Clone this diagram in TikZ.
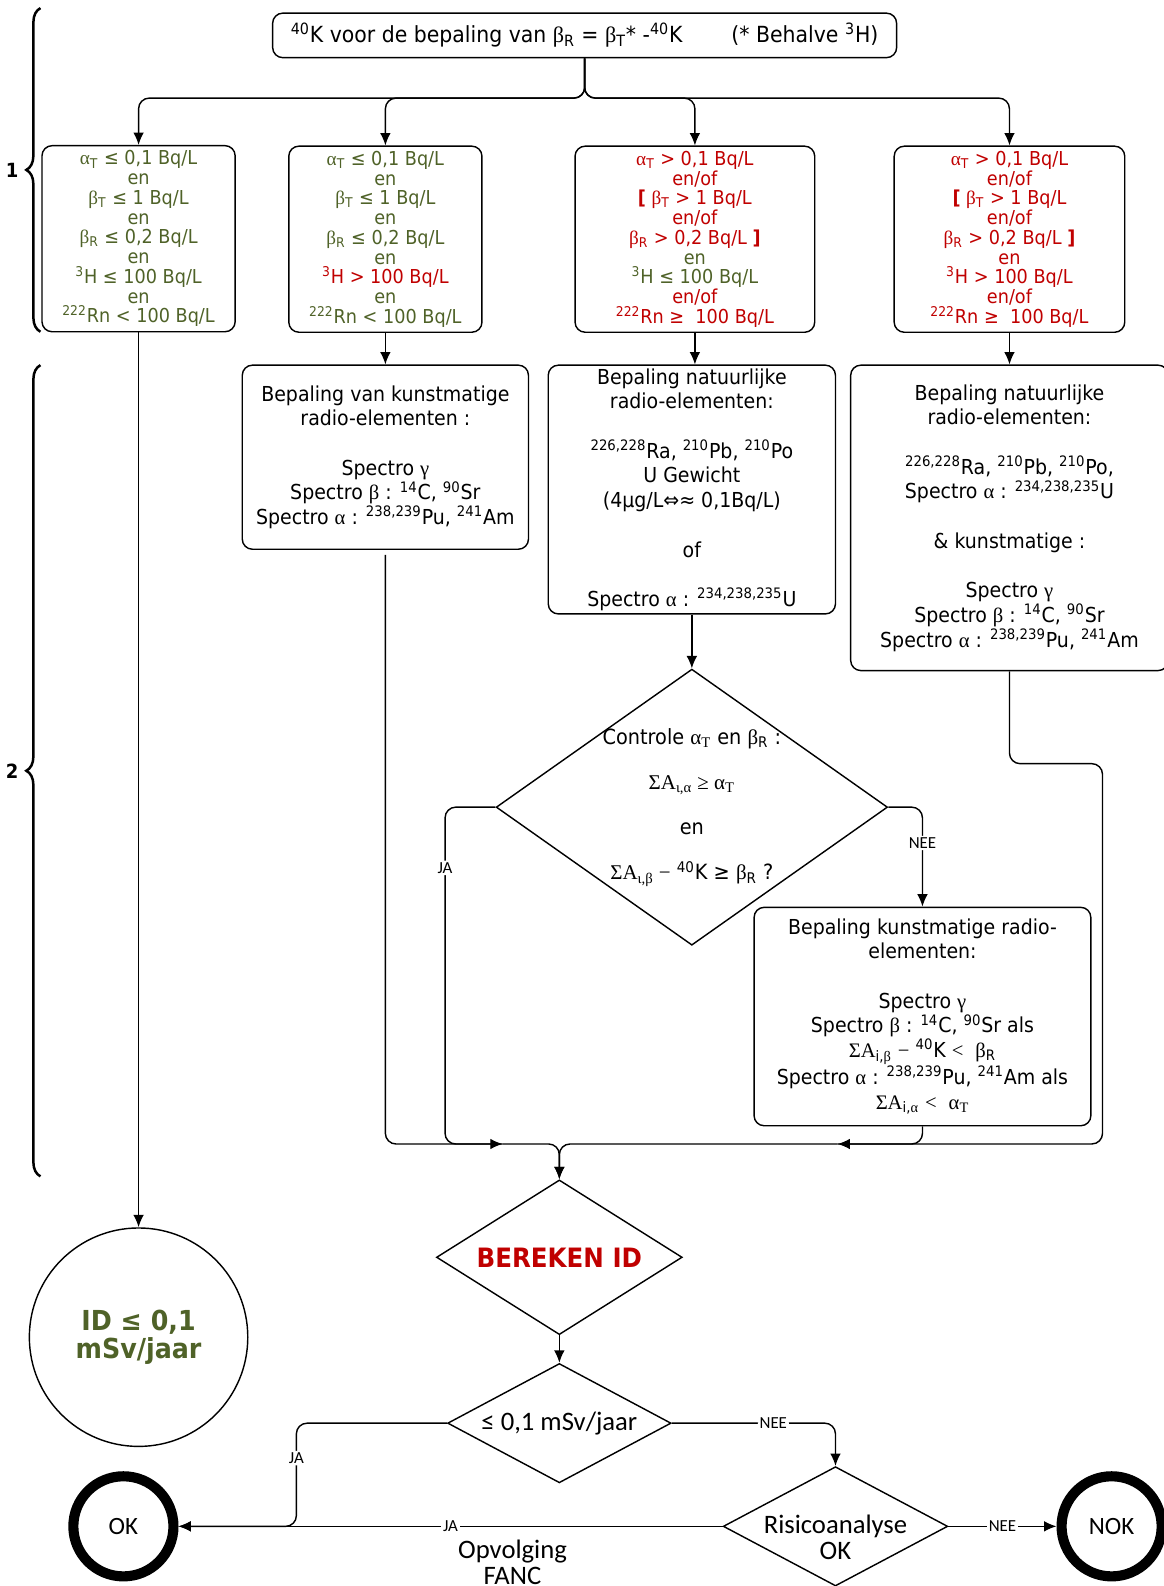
\documentclass[tikz,border=0pt]{standalone}
\usepackage{fontspec}
\setmainfont{DejaVu Sans}[FakeStretch=0.92]
\newfontfamily\grk{Liberation Serif}
\newfontfamily\calib{Carlito}
\usepackage{tikz}
\usetikzlibrary{shapes.geometric,decorations.pathreplacing}
\usetikzlibrary{arrows.meta,calc,positioning}
\definecolor{okgreen}{RGB}{79,98,40}
\definecolor{nokred}{RGB}{192,0,0}
\newcommand{\gra}{{\grk α}}
\newcommand{\grb}{{\grk β}}
\newcommand{\grg}{{\grk γ}}
\newcommand{\grS}{{\grk Σ}}
\newcommand{\fail}[1]{\textcolor{nokred}{#1}}
\newcommand{\pass}[1]{\textcolor{okgreen}{#1}}

\begin{document}
\begin{tikzpicture}[x=0.02cm, y=-0.02cm, line width=0.8pt,
    box/.style={draw, rounded corners=0.2cm, align=center, inner sep=0pt},
    cond/.style={box, minimum height=3.68cm, font=\fontsize{10.8}{11.1}\selectfont, text=okgreen},
    proc/.style={box, font=\fontsize{11.6}{13.9}\selectfont},
    test/.style={draw, diamond, inner sep=-1.5cm, align=center},
    term/.style={draw, circle, line width=0.2cm, minimum size=1.98cm, font=\calib\fontsize{14}{16}\selectfont},
    arr/.style={-{Latex[length=7pt,width=6pt]}},
    lbl/.style={fill=white, inner sep=1pt, font=\calib\fontsize{9.5}{10}\selectfont},
    grp/.style={decorate, decoration={brace, amplitude=0.28cm}, line width=1.4pt}]
        \def\rnd{6pt}
        \def\gap{13.9pt}
        \useasboundingbox (0,0) rectangle (1150,1568);
        %Top box
        \node[box, minimum width=12.34cm, minimum height=0.88cm, font=\fontsize{12.5}{14}\selectfont] (top) at (578,35)
          {\textsuperscript{40}K voor de bepaling van \grb\textsubscript{R} = \grb\textsubscript{T}* -\textsuperscript{40}K\hspace{2.2em}(* Behalve \textsuperscript{3}H)};
        %Conditions
        \node[cond, minimum width=3.82cm] (c1) at (137,236)
          {\gra\textsubscript{T} ≤ 0,1 Bq/L\\ en\\ \grb\textsubscript{T} ≤ 1 Bq/L\\ en\\ \grb\textsubscript{R} ≤ 0,2 Bq/L\\ en\\
           \textsuperscript{3}H ≤ 100 Bq/L\\ en\\ \textsuperscript{222}Rn < 100 Bq/L};
        \node[cond, minimum width=3.82cm] (c2) at (381,236.5)
          {\gra\textsubscript{T} ≤ 0,1 Bq/L\\ en\\ \grb\textsubscript{T} ≤ 1 Bq/L\\ en\\ \grb\textsubscript{R} ≤ 0,2 Bq/L\\ en\\
           \fail{\textsuperscript{3}H > 100 Bq/L}\\ en\\ \textsuperscript{222}Rn < 100 Bq/L};
        \node[cond, minimum width=4.74cm, text=nokred] (c3) at (687,236.5)
          {\gra\textsubscript{T} > 0,1 Bq/L\\ en/of\\ \textbf{[} \grb\textsubscript{T} > 1 Bq/L\\ en/of\\ \grb\textsubscript{R} > 0,2 Bq/L \textbf{]}\\
           \pass{en}\\ \pass{\textsuperscript{3}H ≤ 100 Bq/L}\\ en/of\\ \textsuperscript{222}Rn ≥~ 100 Bq/L};
        \node[cond, minimum width=4.56cm, text=nokred] (c4) at (998,236.5)
          {\gra\textsubscript{T} > 0,1 Bq/L\\ en/of\\ \textbf{[} \grb\textsubscript{T} > 1 Bq/L\\ en/of\\ \grb\textsubscript{R} > 0,2 Bq/L \textbf{]}\\
           en\\ \textsuperscript{3}H > 100 Bq/L\\ en/of\\ \textsuperscript{222}Rn ≥~ 100 Bq/L};
        %Determinations
        \node[proc, minimum width=5.66cm, minimum height=3.64cm] (k1) at (381,452)
          {Bepaling van kunstmatige\\ radio-elementen :\\[\gap] Spectro \grg\\ Spectro \grb\ : \textsuperscript{14}C, \textsuperscript{90}Sr\\
           Spectro \gra\ : \textsuperscript{238,239}Pu, \textsuperscript{241}Am};
        \node[proc, minimum width=5.68cm, minimum height=4.92cm] (k2) at (684,484)
          {Bepaling natuurlijke\\ radio-elementen:\\[\gap] \textsuperscript{226,228}Ra, \textsuperscript{210}Pb, \textsuperscript{210}Po\\ U Gewicht\\
           (4µg/L⇔≈ 0,1Bq/L)\\[\gap] of\\[\gap] Spectro \gra\ : \textsuperscript{234,238,235}U};
        \node[proc, minimum width=6.28cm, minimum height=6.04cm] (k3) at (998,512)
          {Bepaling natuurlijke\\ radio-elementen:\\[\gap] \textsuperscript{226,228}Ra, \textsuperscript{210}Pb, \textsuperscript{210}Po,\\
           Spectro \gra\ : \textsuperscript{234,238,235}U\\[\gap] \& kunstmatige :\\[\gap] Spectro \grg\\
           Spectro \grb\ : \textsuperscript{14}C, \textsuperscript{90}Sr\\ Spectro \gra\ : \textsuperscript{238,239}Pu, \textsuperscript{241}Am};
        \node[test, minimum width=7.74cm, minimum height=5.46cm, font=\fontsize{11.8}{25.5}\selectfont] (ctrl) at (684,798)
          {Controle \gra{\grk\textsubscript{T}} en \grb\textsubscript{R} :\\ {\grk ΣA\textsubscript{ι,α} ≥ α\textsubscript{T}}\\ en\\
           {\grk ΣA\textsubscript{ι,β} −} \textsuperscript{40}K ≥ \grb\textsubscript{R} ?};
        \node[proc, minimum width=6.66cm, minimum height=4.32cm] (k4) at (912,1005)
          {Bepaling kunstmatige radio-\\ elementen:\\[\gap] Spectro \grg\\ Spectro \grb\ : \textsuperscript{14}C, \textsuperscript{90}Sr als\\
           {\grk ΣA}\textsubscript{i,\grb} {\grk −} \textsuperscript{40}K {\grk <}~ \grb\textsubscript{R}\\
           Spectro \gra\ : \textsuperscript{238,239}Pu, \textsuperscript{241}Am als\\ {\grk ΣA}\textsubscript{i,\gra} {\grk <}~ {\grk α\textsubscript{T}}};
        %Dose
        \node[test, minimum width=4.86cm, minimum height=3.06cm, font=\bfseries\fontsize{15}{18}\selectfont, text=nokred] (calc) at (553,1243) {BEREKEN ID};
        \node[test, minimum width=4.42cm, minimum height=2.36cm, font=\calib\fontsize{15}{17}\selectfont] (dose) at (553,1407) {≤ 0,1 mSv/jaar};
        \node[test, minimum width=4.44cm, minimum height=2.36cm,
              label={[font=\calib\fontsize{15}{14.7}\selectfont, align=center, yshift=-0.22cm]center:{Risicoanalyse\\ OK}}] (risk) at (826,1509) {};
        \node[draw, circle, minimum size=4.32cm, align=center, text=okgreen, font=\bfseries\fontsize{15.5}{15.3}\selectfont] (idok) at (137,1322) {ID ≤ 0,1\\ mSv/jaar};
        \node[term] (ok) at (122,1509) {OK};
        \node[term] (nok) at (1099,1509) {NOK};
        %Groups
        \draw[grp] (40,328) -- (40,8);
        \draw[grp] (40,1163) -- (40,361);
        \node[font=\bfseries\fontsize{11}{13}\selectfont] (g1) at (12,168) {1};
        \node[font=\bfseries\fontsize{11}{13}\selectfont] (g2) at (12,762) {2};
        %Draw lines
        \coordinate (split) at (578,97);
        \coordinate (jl) at (440,1131);
        \coordinate (ml) at (497,1131);
        \coordinate (mr) at (828,1131);
        \coordinate (rk) at (1090,755);
        \coordinate (jb) at (293,1509);
        \foreach \c in {c1,c2,c3,c4}
          \draw[arr, rounded corners=\rnd] (top.south) -- (split) -| (\c.north);
        \draw[arr] (c1.south) -- (idok.north);
        \draw[arr] (c2.south) -- (k1.north);
        \draw[arr] (c3.south) -- (c3.south |- k2.north);
        \draw[arr] (c4.south) -- (k3.north);
        \draw[arr] (k2.south) -- (ctrl.north);
        \draw[arr, rounded corners=\rnd] (ctrl.west) -| node[lbl, pos=0.59] {JA} (jl) -- (ml);
        \draw[rounded corners=\rnd] ($(k1.south)+(0,5)$) |- (ml);
        \draw[arr, rounded corners=\rnd] (ctrl.east) -| node[lbl, pos=0.68] {NEE} (k4.north);
        \draw[arr, rounded corners=\rnd] (k4.south) |- (mr);
        \draw[rounded corners=\rnd] (k3.south) |- (rk) |- (mr);
        \draw[arr, rounded corners=\rnd] (ml) -| (calc.north);
        \draw[arr, rounded corners=\rnd] (mr) -| (calc.north);
        \draw[arr] (calc.south) -- (dose.north);
        \draw[arr, rounded corners=\rnd] (dose.west) -| node[lbl, pos=0.67] {JA} (jb) -- (ok.east);
        \draw[arr, rounded corners=\rnd] (dose.east) -| node[lbl, pos=0.31] {NEE} (risk.north);
        \draw[arr] (risk.west) -- node[lbl] {JA}
          node[pos=0.386, below=4pt, align=center, font=\calib\fontsize{15}{14.7}\selectfont] {Opvolging\\ FANC} (ok.east);
        \draw[arr] (risk.east) -- node[lbl] {NEE} (nok.west);
\end{tikzpicture}
\end{document}
